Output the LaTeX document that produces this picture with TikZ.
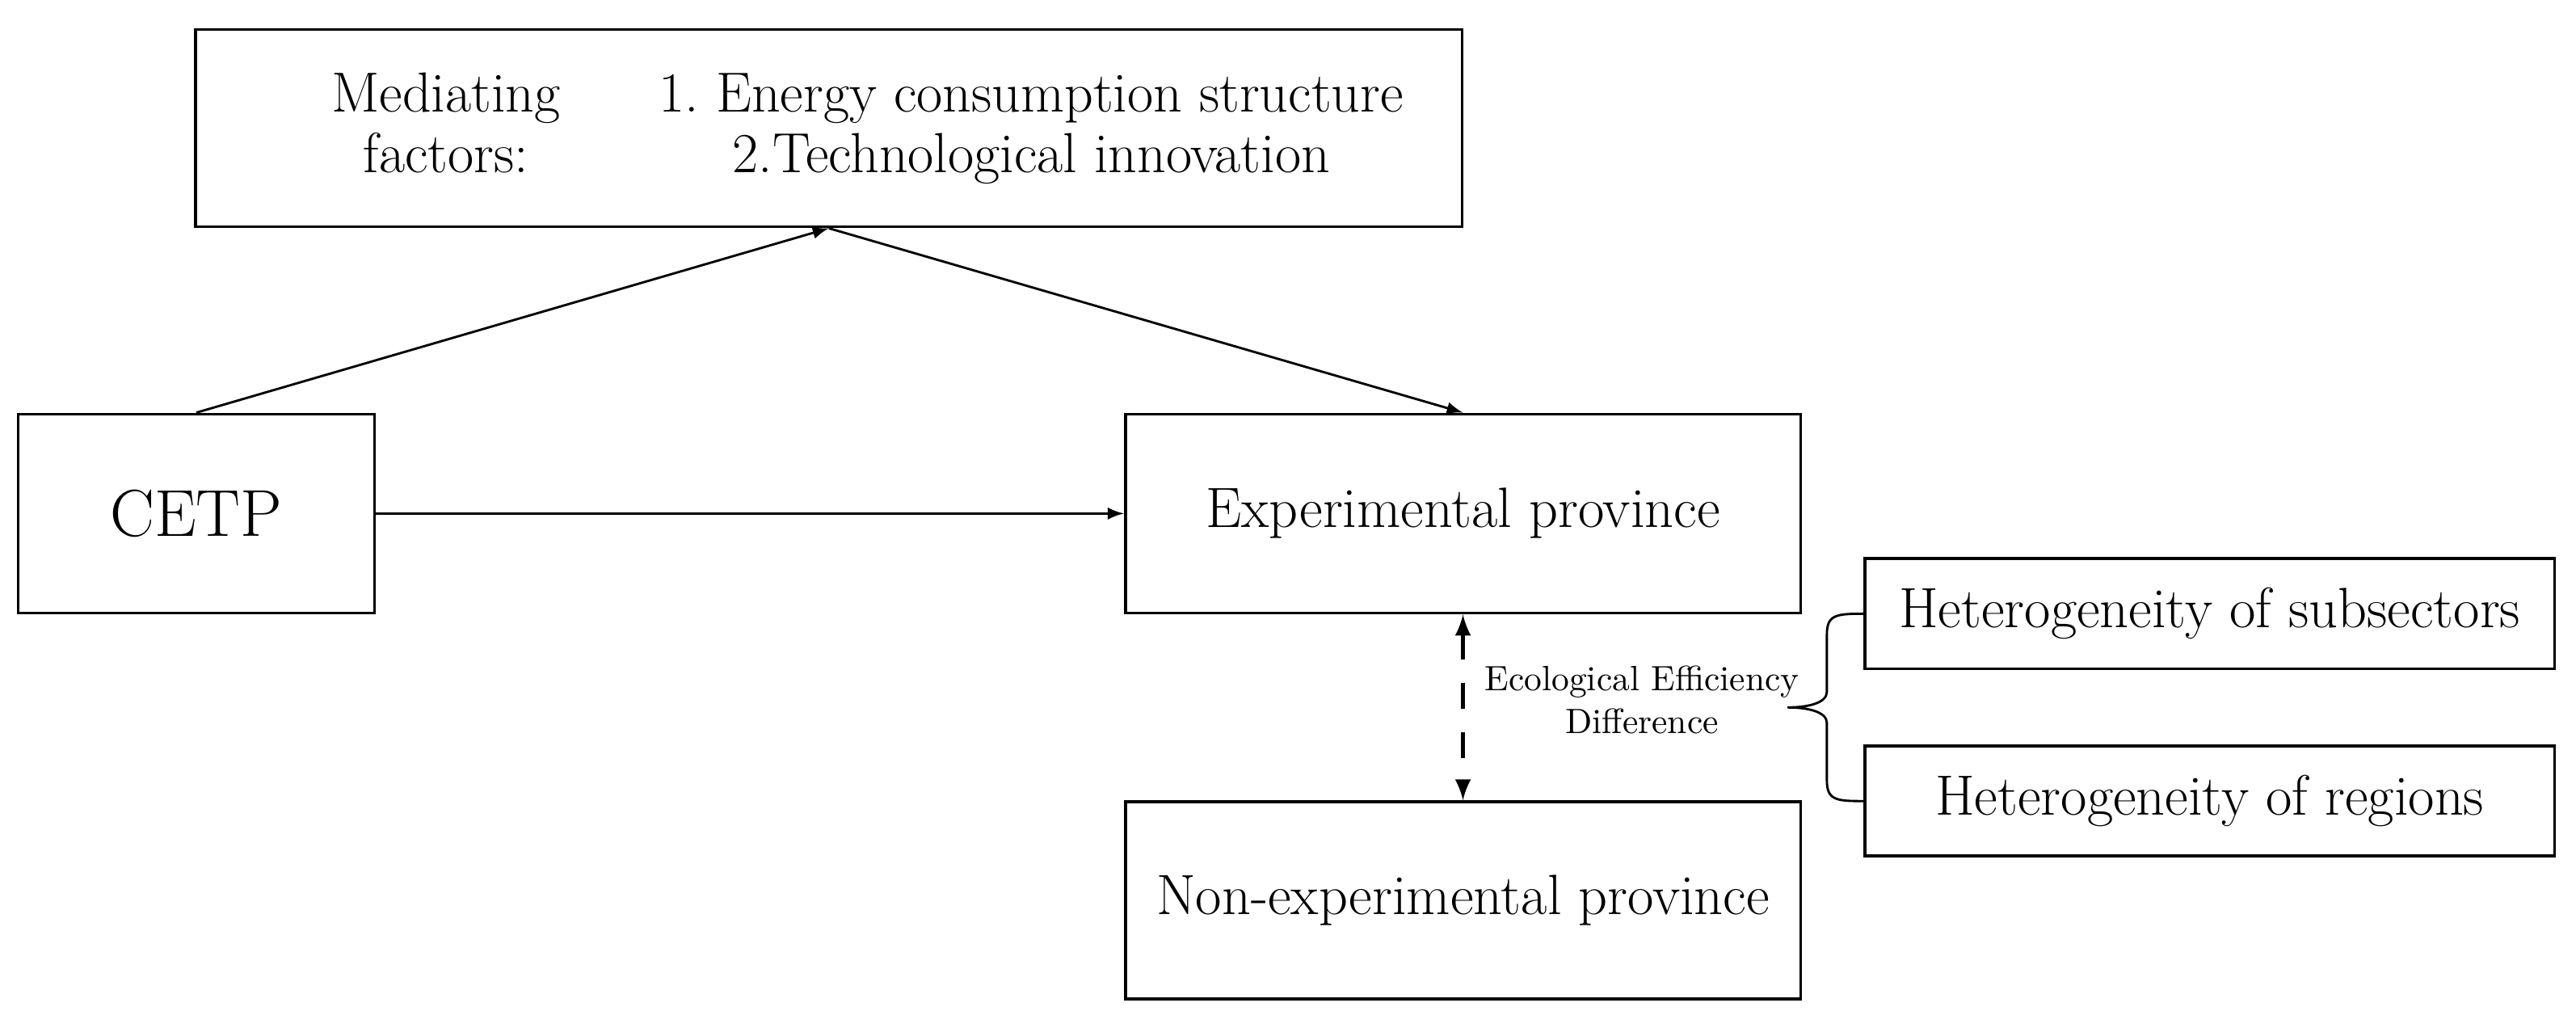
\documentclass[tikz,border=0pt]{standalone}
\usepackage{amsmath}
\usepackage{tikz}
\usetikzlibrary{shapes,arrows}

\tikzset{
  box/.style={draw, line width=0.9pt, inner sep=0pt, align=center, font=\fontsize{17.3}{19}\selectfont},
  link/.style={-latex, line width=0.7pt},
}

\begin{document}
\begin{tikzpicture}[x=0.5pt,y=0.5pt,yscale=-1,xscale=1]
    \useasboundingbox (0,0) rectangle (1568,623);

    %Shape: Mediating factors box
    \node [box, minimum width=385.5pt, minimum height=60pt] (mediate) at (504.5,78) {};
    % Text Node
    \node [font=\fontsize{17.2}{18.5}\selectfont, inner sep=0pt] (medtext) at (528,79) {\begin{tabular}{@{}c@{\hspace{30pt}}c@{}}Mediating & 1.\ Energy consumption structure\\ factors: & 2.Technological innovation\end{tabular}};
    %Shape: CETP
    \node [box, minimum width=108.5pt, minimum height=60.5pt, font=\fontsize{20.2}{23}\selectfont] (cetp) at (119.5,312.5) {CETP};
    %Shape: Experimental province
    \node [box, minimum width=205.5pt, minimum height=60.5pt] (exp) at (890.5,312.5) {Experimental province};
    %Shape: Non-experimental province
    \node [box, minimum width=205.5pt, minimum height=60pt] (nonexp) at (890.5,548) {Non-experimental province};
    %Shape: Heterogeneity boxes
    \node [box, minimum width=210pt, minimum height=33.5pt] (hetsub) at (1345,373.5) {Heterogeneity of subsectors};
    \node [box, minimum width=210pt, minimum height=33.5pt] (hetreg) at (1345,487.5) {Heterogeneity of regions};
    % Text Node
    \node [font=\fontsize{10.7}{13}\selectfont, align=center, inner sep=0pt] (ecodiff) at (999.5,426) {Ecological Efficiency\\Difference};

    %Straight Lines
    \draw [link] (cetp.north) -- (mediate.south);
    \draw [link] (mediate.south) -- (exp.north);
    \draw [link] (cetp.east) -- (exp.west);
    %Straight Lines: dashed
    \draw [latex-latex, line width=1.2pt, dash pattern={on 8pt off 7pt}] (exp.south) -- (nonexp.north);
    %Curve Lines: brace
    \draw [line width=0.7pt] (hetsub.west) .. controls (1118,373.5) and (1112,374) .. (1112,386) -- (1112,421) .. controls (1112,428) and (1100,430.5) .. (1088,430.5) .. controls (1100,430.5) and (1112,433) .. (1112,440) -- (1112,475) .. controls (1112,487) and (1118,487.5) .. (hetreg.west);

\end{tikzpicture}
\end{document}
